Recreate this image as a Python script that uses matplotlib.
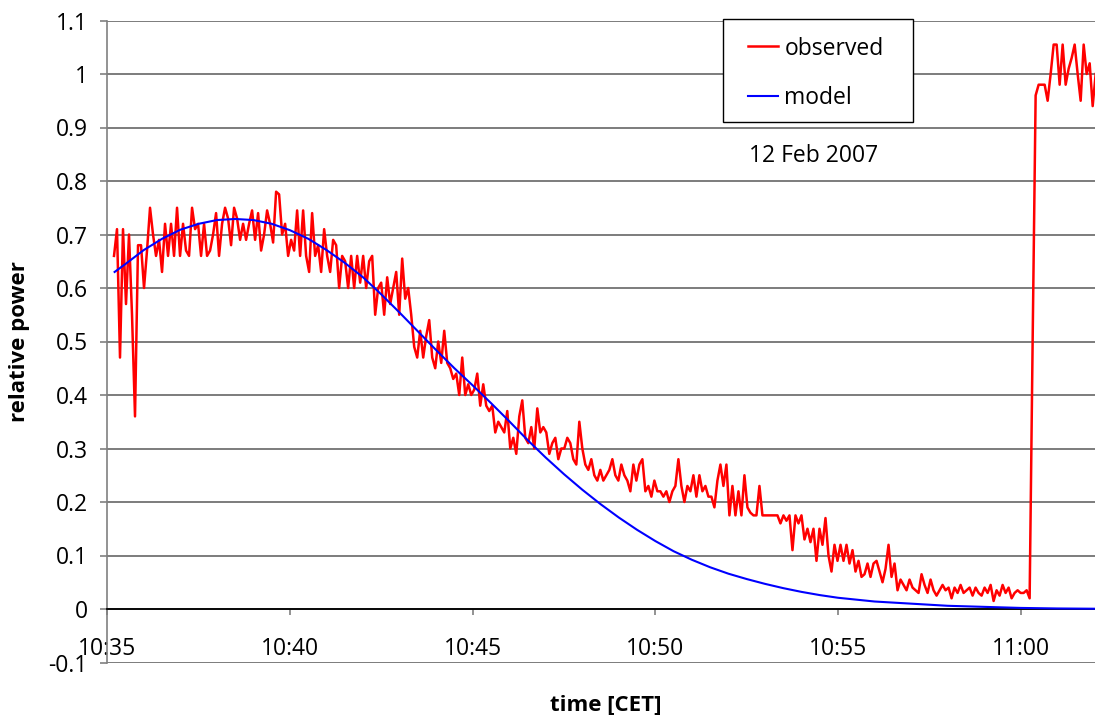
import numpy as np
import matplotlib
matplotlib.use("Agg")
import matplotlib.pyplot as plt
import matplotlib.dates as mdates
from matplotlib.patches import Rectangle

# observed relative power, one reading every ~4.93 s starting 10:35:11
observed = [
    0.66, 0.71, 0.47, 0.71, 0.57, 0.70, 0.55, 0.36, 0.68, 0.68, 0.60, 0.67,
    0.75, 0.70, 0.66, 0.69, 0.63, 0.72, 0.66, 0.72, 0.66, 0.75, 0.66, 0.72,
    0.67, 0.66, 0.75, 0.71, 0.72, 0.66, 0.72, 0.66, 0.67, 0.70, 0.74, 0.66,
    0.72, 0.75, 0.73, 0.68, 0.75, 0.73, 0.69, 0.72,
    0.69, 0.72, 0.745, 0.69, 0.74, 0.67, 0.70, 0.745, 0.72, 0.685, 0.78, 0.775,
    0.70, 0.72, 0.66, 0.69, 0.67, 0.745, 0.66, 0.745, 0.66, 0.63, 0.74, 0.66,
    0.68, 0.63, 0.71, 0.66, 0.63, 0.69, 0.68, 0.60, 0.66, 0.65, 0.60, 0.66,
    0.60, 0.66, 0.61, 0.66, 0.60, 0.65, 0.66, 0.55, 0.60, 0.61, 0.55, 0.62,
    0.57,
    0.60, 0.63, 0.55, 0.655, 0.58, 0.60, 0.55, 0.49, 0.47, 0.52, 0.47, 0.51,
    0.54, 0.47, 0.45, 0.50, 0.46, 0.52, 0.46, 0.45, 0.43, 0.44, 0.40, 0.47,
    0.40, 0.42, 0.40, 0.41, 0.44, 0.38, 0.42, 0.38, 0.37, 0.38, 0.33, 0.35,
    0.34, 0.33, 0.37, 0.30, 0.32, 0.29, 0.36, 0.39, 0.32, 0.31, 0.34, 0.30,
    0.375, 0.33, 0.34, 0.33, 0.29, 0.31, 0.32, 0.28, 0.30, 0.30, 0.32, 0.31,
    0.28, 0.27, 0.35, 0.30, 0.27, 0.26, 0.28, 0.25, 0.24, 0.26, 0.24, 0.25,
    0.26, 0.28, 0.25, 0.24, 0.27, 0.25, 0.24, 0.22, 0.27, 0.24, 0.27, 0.28,
    0.22, 0.23, 0.21, 0.24, 0.22, 0.22, 0.21, 0.22, 0.20, 0.22, 0.23, 0.28,
    0.23, 0.20, 0.23, 0.22, 0.25, 0.21, 0.25, 0.22, 0.23, 0.21, 0.21, 0.19,
    0.24, 0.27, 0.23, 0.27, 0.175, 0.23, 0.175, 0.22, 0.175, 0.25, 0.19, 0.18,
    0.175, 0.175, 0.23, 0.175, 0.175, 0.175, 0.175, 0.175, 0.175, 0.16, 0.175, 0.165,
    0.175, 0.11, 0.175, 0.16, 0.175, 0.13, 0.15, 0.125, 0.15, 0.09, 0.15, 0.12,
    0.17, 0.10, 0.07, 0.12, 0.09, 0.12, 0.09, 0.12, 0.085, 0.11,
    0.07, 0.09, 0.06, 0.065, 0.085, 0.06, 0.085, 0.09, 0.07, 0.05, 0.075, 0.12,
    0.06, 0.085, 0.035, 0.055, 0.045, 0.035, 0.055, 0.04, 0.035, 0.03, 0.065, 0.045,
    0.03, 0.055, 0.035, 0.025, 0.035, 0.045, 0.035, 0.04, 0.02, 0.04, 0.03, 0.045,
    0.03, 0.035, 0.04, 0.025, 0.04, 0.03, 0.025, 0.04, 0.03, 0.045, 0.015, 0.035,
    0.025, 0.045, 0.03, 0.04, 0.02, 0.03, 0.035, 0.03, 0.03, 0.035, 0.02,
    0.50, 0.96, 0.98, 0.98, 0.98, 0.95, 1.00, 1.055, 1.055, 0.98, 1.055, 0.98,
    1.01, 1.03, 1.055, 1.00, 0.95, 1.055, 1.00, 1.02, 0.94, 1.00,
]
obs_start = np.datetime64("2007-02-12T10:35:11")
obs_step_ms = 4930

# model curve, minutes after 10:35
model_minutes = [0.2, 0.5, 1.0, 1.5, 2.0, 2.5, 3.0, 3.5, 4.0, 4.5, 5.0, 5.5,
                 6.0, 6.5, 7.0, 7.5, 8.0, 8.5, 9.0, 9.5, 10.0, 10.5, 11.0, 11.5,
                 12.0, 12.5, 13.0, 13.5, 14.0, 14.5, 15.0, 15.5, 16.0, 16.5, 17.0, 17.5,
                 18.0, 18.5, 19.0, 19.5, 20.0, 21.0, 22.0, 23.0, 24.0, 25.0, 26.0, 27.05]
model_values = [0.630, 0.645, 0.671, 0.692, 0.709, 0.720, 0.727, 0.729, 0.727, 0.720, 0.708, 0.692,
                0.671, 0.647, 0.620, 0.588, 0.554, 0.519, 0.484, 0.450, 0.418, 0.385, 0.351, 0.316,
                0.283, 0.252, 0.223, 0.196, 0.171, 0.148, 0.127, 0.108, 0.092, 0.078, 0.066, 0.056,
                0.047, 0.039, 0.032, 0.026, 0.021, 0.014, 0.010, 0.006, 0.004, 0.002, 0.001, 0.0005]

y_ticks = [-0.1, 0, 0.1, 0.2, 0.3, 0.4, 0.5, 0.6, 0.7, 0.8, 0.9, 1.0, 1.1]
y_labels = ["-0.1", "0", "0.1", "0.2", "0.3", "0.4", "0.5", "0.6", "0.7", "0.8", "0.9", "1", "1.1"]

base = np.datetime64("2007-02-12T10:35:00")
obs_time = obs_start + (np.arange(len(observed)) * obs_step_ms).astype("timedelta64[ms]")
model_time = base + (np.array(model_minutes) * 60000).astype("int64").astype("timedelta64[ms]")

plt.rcParams["font.family"] = ["Open Sans", "DejaVu Sans"]

fig = plt.figure(figsize=(10.95, 7.15), dpi=100)
ax = fig.add_axes([107.3 / 1095, 1 - 662.5 / 715, 1 - 107.3 / 1095, 642 / 715])

ax.plot(obs_time, observed, color="#ff0000", lw=1.8, label="observed", zorder=3)
ax.plot(model_time, model_values, color="#0000ff", lw=1.5, label="model", zorder=4)

ax.set_ylim(-0.1, 1.1)
ax.set_xlim(base, np.datetime64("2007-02-12T11:02:02"))
ax.set_yticks(y_ticks)
ax.set_yticklabels(y_labels)
ax.xaxis.set_major_locator(mdates.MinuteLocator(byminute=range(0, 60, 5)))
ax.xaxis.set_major_formatter(mdates.DateFormatter("%H:%M"))

ax.yaxis.grid(True, color="#666666", lw=1.2)
ax.set_axisbelow(True)
for s in ("top", "right"):
    ax.spines[s].set_visible(False)
ax.spines["left"].set_color("#808080")
ax.spines["left"].set_linewidth(1.2)
ax.spines["bottom"].set_position(("data", 0))
ax.spines["bottom"].set_color("black")
ax.spines["bottom"].set_linewidth(1.3)
ax.tick_params(axis="y", direction="out", length=5, width=1.2, color="#808080",
               pad=9, labelsize=16.5)
ax.tick_params(axis="x", direction="out", length=4.5, width=1.2, color="#808080",
               pad=15.5, labelsize=16.5)

ax.set_ylabel("relative power", fontsize=16, fontweight="bold")
ax.yaxis.set_label_coords(-0.0783, 0.5)
ax.set_xlabel("time [CET]", fontsize=16, fontweight="bold")
ax.xaxis.set_label_coords(0.5044, -0.050)

# legend box drawn as a patch, entries placed inside it
ax.add_patch(Rectangle((0.6231, 0.8414), 0.1923, 0.1605, transform=ax.transAxes,
                       facecolor="white", edgecolor="black", lw=1.0, zorder=5, clip_on=False))
ax.legend(loc="center left", bbox_to_anchor=(0.6487, 0.9175), frameon=False,
          fontsize=16.5, handlelength=1.31, handletextpad=0.28, labelspacing=1.13,
          borderpad=0, borderaxespad=0).set_zorder(6)

ax.text(0.6497, 0.780, "12 Feb 2007", transform=ax.transAxes, fontsize=16.5,
        ha="left", va="baseline")

fig.savefig("out.png", dpi=100)
